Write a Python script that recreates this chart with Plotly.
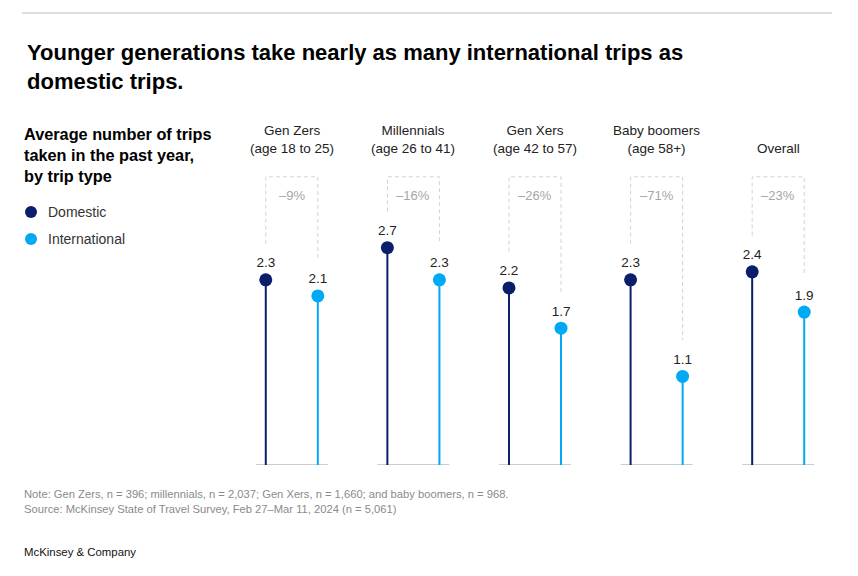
import plotly.graph_objects as go

# data
groups = ["Gen Zers<br>(age 18 to 25)", "Millennials<br>(age 26 to 41)", "Gen Xers<br>(age 42 to 57)",
          "Baby boomers<br>(age 58+)", "Overall"]
domestic = [2.3, 2.7, 2.2, 2.3, 2.4]
international = [2.1, 2.3, 1.7, 1.1, 1.9]
gap_labels = ["–9%", "–16%", "–26%", "–71%", "–23%"]

NAVY = "#0B1D6B"
CYAN = "#00A9F4"
FONT = "Liberation Sans"

W, H = 858, 576
L, R, T, B = 231, 19, 120, 111
PW, PH = W - L - R, H - T - B
Y_MAX = PH / 80.5
OFF = 0.214       # half distance between the two stems of a group
BRACKET_TOP = 3.58
BRACKET_GAP = 0.45


def px_x(p):
    return (p - L) / PW


def px_y(p):
    return (H - B - p) / PH


idx = list(range(len(groups)))
x_dom = [i - OFF for i in idx]
x_int = [i + OFF for i in idx]

fig = go.Figure()

# stems
for xs, vals, color in [(x_dom, domestic, NAVY), (x_int, international, CYAN)]:
    sx, sy = [], []
    for x, v in zip(xs, vals):
        sx += [x, x, None]
        sy += [0, v, None]
    fig.add_trace(go.Scatter(x=sx, y=sy, mode="lines", line=dict(color=color, width=2),
                             hoverinfo="skip", showlegend=False))

# dashed brackets
bx, by = [], []
for xd, xi, d, n in zip(x_dom, x_int, domestic, international):
    bx += [xd, xd, xi, xi, None]
    by += [d + BRACKET_GAP, BRACKET_TOP, BRACKET_TOP, n + BRACKET_GAP, None]
fig.add_trace(go.Scatter(x=bx, y=by, mode="lines", line=dict(color="#d3d3d3", width=1, dash="4px,3px"),
                         hoverinfo="skip", showlegend=False))

# dots and value labels
for xs, vals, color, name in [(x_dom, domestic, NAVY, "Domestic"), (x_int, international, CYAN, "International")]:
    fig.add_trace(go.Scatter(x=xs, y=vals, mode="markers+text", name=name,
                             marker=dict(color=color, size=13),
                             text=[f"{v:.1f}" for v in vals], textposition="top center",
                             textfont=dict(size=13.5, color="#222222", family=FONT),
                             showlegend=False))

# baselines under each group
for i in idx:
    fig.add_shape(type="line", x0=i - 0.296, x1=i + 0.296, y0=0, y1=0,
                  line=dict(color="#bdbdbd", width=1.5), layer="below")

# group labels and gap labels
for i, g, gl in zip(idx, groups, gap_labels):
    fig.add_annotation(x=i, y=px_y(158), yref="paper", text=g, showarrow=False, yanchor="bottom",
                       font=dict(size=13.5, color="#222222", family=FONT))
    fig.add_annotation(x=i, y=px_y(195), yref="paper", text=gl, showarrow=False, yanchor="middle",
                       font=dict(size=13, color="#a6a6a6", family=FONT))

# top rule
fig.add_shape(type="line", xref="paper", yref="paper", x0=px_x(22), x1=px_x(832), y0=px_y(13), y1=px_y(13),
              line=dict(color="#bdbdbd", width=1))

# title
fig.add_annotation(xref="paper", yref="paper", x=px_x(25), y=px_y(67), xanchor="left", yanchor="middle",
                   align="left", showarrow=False,
                   text="Younger generations take nearly as many international trips as<br>domestic trips.",
                   font=dict(size=22, color="#000000", family=FONT, weight=600))

# subtitle
fig.add_annotation(xref="paper", yref="paper", x=px_x(22), y=px_y(155), xanchor="left", yanchor="middle",
                   align="left", showarrow=False,
                   text="Average number of trips<br>taken in the past year,<br>by trip type",
                   font=dict(size=16.3, color="#000000", family=FONT, weight="bold"))

# legend
for yy, color, name in [(212, NAVY, "Domestic"), (239, CYAN, "International")]:
    fig.add_shape(type="circle", xref="paper", yref="paper", xsizemode="pixel", ysizemode="pixel",
                  xanchor=px_x(31), yanchor=px_y(yy), x0=-6, x1=6, y0=-6, y1=6,
                  fillcolor=color, line=dict(width=0))
    fig.add_annotation(xref="paper", yref="paper", x=px_x(46), y=px_y(yy), xanchor="left", yanchor="middle",
                       showarrow=False, text=name, font=dict(size=14, color="#333333", family=FONT))

# notes
fig.add_annotation(xref="paper", yref="paper", x=px_x(22), y=px_y(501), xanchor="left", yanchor="middle",
                   align="left", showarrow=False,
                   text="Note: Gen Zers, n = 396; millennials, n = 2,037; Gen Xers, n = 1,660; and baby boomers, n = 968."
                        "<br>Source: McKinsey State of Travel Survey, Feb 27–Mar 11, 2024 (n = 5,061)",
                   font=dict(size=11.2, color="#8a8a8a", family=FONT))
fig.add_annotation(xref="paper", yref="paper", x=px_x(22), y=px_y(552), xanchor="left", yanchor="middle",
                   showarrow=False, text="McKinsey & Company",
                   font=dict(size=11.4, color="#111111", family=FONT))

fig.update_layout(
    width=W, height=H,
    margin=dict(l=L, r=R, t=T, b=B),
    paper_bgcolor="white", plot_bgcolor="white",
    xaxis=dict(range=[-0.5, len(groups) - 0.5], visible=False, fixedrange=True),
    yaxis=dict(range=[0, Y_MAX], visible=False, fixedrange=True),
    font=dict(family=FONT),
    hovermode=False,
)

fig.write_html("out.html", config={"displayModeBar": False},
               post_script="document.body.style.margin = '0';")
